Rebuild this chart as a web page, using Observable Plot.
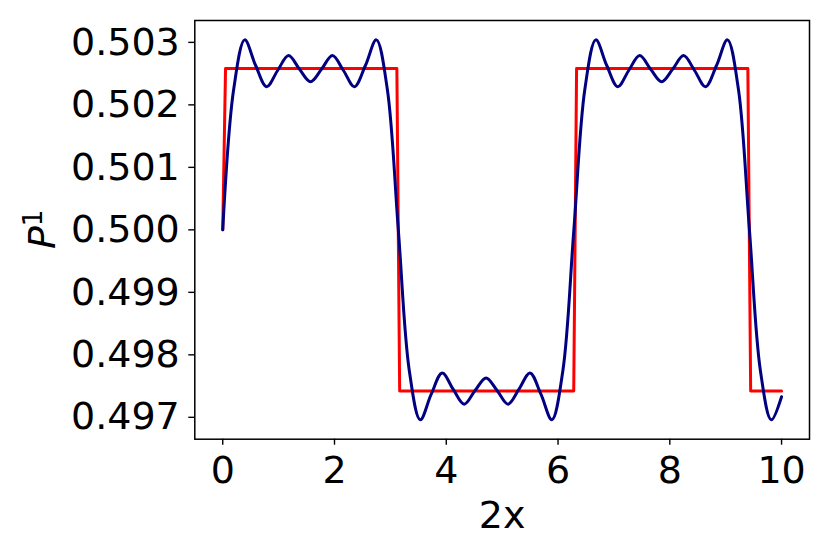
<!DOCTYPE html>
<html>
<head>
<meta charset="utf-8">
<script src="https://cdn.jsdelivr.net/npm/d3@7"></script>
<script src="https://cdn.jsdelivr.net/npm/@observablehq/plot@0.6"></script>
<style>
  html, body { margin: 0; padding: 0; background: white; }
</style>
</head>
<body>
<div id="chart"></div>
<script>
// Blue curve (partial Fourier sum)
const blueX = [0, 0.196, 0.393, 0.589, 0.785, 0.982, 1.178, 1.374, 1.571, 1.767,
  1.963, 2.160, 2.356, 2.553, 2.749, 2.945, 3.142, 3.338, 3.534, 3.731,
  3.927, 4.123, 4.320, 4.516, 4.712, 4.909, 5.105, 5.301, 5.498, 5.694,
  5.890, 6.087, 6.283, 6.480, 6.676, 6.872, 7.069, 7.265, 7.461, 7.658,
  7.854, 8.050, 8.247, 8.443, 8.639, 8.836, 9.032, 9.228, 9.425, 9.621,
  9.817, 10];
const blueY = [0.50000, 0.50225, 0.50304, 0.50263, 0.50229, 0.50255, 0.50279, 0.50257, 0.50237, 0.50257,
  0.50279, 0.50255, 0.50229, 0.50263, 0.50304, 0.50225, 0.50000, 0.49775, 0.49696, 0.49737,
  0.49771, 0.49745, 0.49721, 0.49743, 0.49763, 0.49743, 0.49721, 0.49745, 0.49771, 0.49737,
  0.49696, 0.49775, 0.50000, 0.50225, 0.50304, 0.50263, 0.50229, 0.50255, 0.50279, 0.50257,
  0.50237, 0.50257, 0.50279, 0.50255, 0.50229, 0.50263, 0.50304, 0.50225, 0.50000, 0.49775,
  0.49696, 0.49733];

// Red square wave
const redX = [0, 0.050, 3.116, 3.166, 6.281, 6.332, 9.397, 9.447, 10];
const redY = [0.50000, 0.50258, 0.50258, 0.49742, 0.49742, 0.50258, 0.50258, 0.49742, 0.49742];

const xTicks = [0, 2, 4, 6, 8, 10];
const yTicks = [0.497, 0.498, 0.499, 0.500, 0.501, 0.502, 0.503];
const xLabel = "2x";
const yLabelBase = "P";
const yLabelSup = "1";

const blue = blueX.map((x, i) => ({x, y: blueY[i]}));
const red = redX.map((x, i) => ({x, y: redY[i]}));

const W = 830, H = 554;
const mL = 194.3, mT = 20, mR = 21, mB = 115.3;
const FS = 38;

const svg = Plot.plot({
  width: W,
  height: H,
  marginLeft: mL,
  marginTop: mT,
  marginRight: mR,
  marginBottom: mB,
  style: {fontFamily: "DejaVu Sans", fontSize: FS + "px", background: "white", color: "black"},
  x: {domain: [-0.5, 10.5]},
  y: {domain: [0.49665, 0.50335]},
  marks: [
    Plot.line(red, {x: "x", y: "y", stroke: "red", strokeWidth: 3}),
    Plot.line(blue, {x: "x", y: "y", stroke: "navy", strokeWidth: 3, curve: "catmull-rom"}),
    Plot.frame({stroke: "black", strokeWidth: 1.5}),
    Plot.axisX({ticks: xTicks, tickSize: 6, tickPadding: 11, fontSize: FS, label: null, strokeWidth: 1.4}),
    Plot.axisY({ticks: yTicks, tickFormat: d3.format(".3f"), tickSize: 6, tickPadding: 9, fontSize: FS, label: null, strokeWidth: 1.4}),
    Plot.text([xLabel], {text: d => d, frameAnchor: "bottom", dy: 88.5, lineAnchor: "bottom", fontSize: FS, fill: "black"})
  ]
});

// y label with italic P and superscript 1
const sel = d3.select(svg);
const t = sel.append("text")
  .attr("transform", `translate(55, ${(mT + H - mB) / 2}) rotate(-90)`)
  .attr("text-anchor", "middle")
  .attr("font-family", "DejaVu Sans")
  .attr("font-size", FS)
  .attr("fill", "black");
t.append("tspan").attr("font-style", "italic").text(yLabelBase);
t.append("tspan").attr("font-size", 26).attr("dy", -13).text(yLabelSup);

document.getElementById("chart").appendChild(svg);
</script>
</body>
</html>
